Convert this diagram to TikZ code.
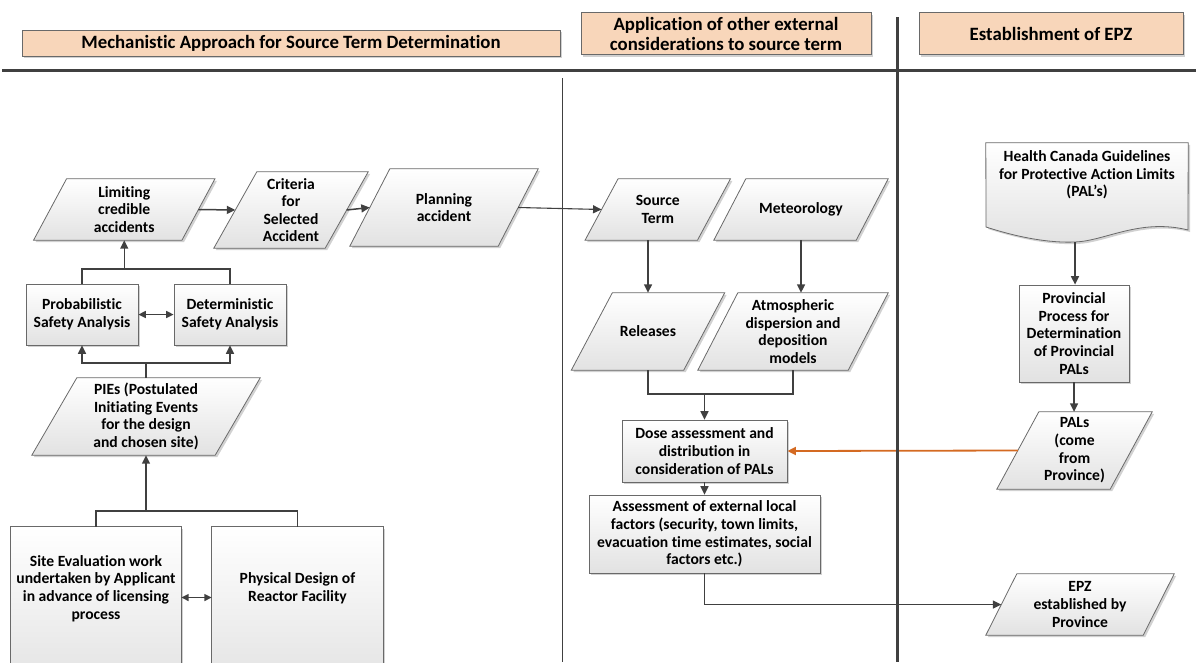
\documentclass[tikz,border=0pt]{standalone}
\usepackage{fontspec}
\setmainfont{Carlito}[Ligatures=NoCommon]
\usetikzlibrary{arrows.meta,shadows,backgrounds,calc}

\definecolor{ink}{RGB}{64,64,64}
\definecolor{edge}{RGB}{105,105,105}
\definecolor{peach}{RGB}{248,214,186}
\definecolor{orangeline}{RGB}{212,106,34}
\definecolor{boxbot}{RGB}{226,226,226}

\tikzset{
  base/.style={font=\fontsize{15.6}{17.6}\selectfont\bfseries, align=center, inner sep=0pt},
  softshadow/.style={drop shadow={shadow xshift=2pt, shadow yshift=-2pt, fill=black, opacity=0.18}},
  shade box/.style={draw=edge, line width=0.8pt, top color=white, bottom color=boxbot, softshadow},
  rbox/.style={base, shade box},
  ptext/.style={base},
  header/.style={draw=edge, line width=0.8pt, fill=peach, softshadow,
    font=\fontsize{18.8}{20}\selectfont\bfseries, align=center, inner sep=0pt},
  conn/.style={draw=ink, line width=1.5pt},
  arr/.style={conn, -{Triangle[length=8.5pt,width=8pt]}},
  dbl/.style={conn, {Triangle[length=7.5pt,width=7pt]}-{Triangle[length=7.5pt,width=7pt]}},
  divider/.style={draw=ink, line width=3pt},
  thindivider/.style={draw=ink, line width=1pt},
}

% parallelogram around an (invisible) text node; #2 = half of the horizontal slant
\newcommand\slantbox[2]{%
  \path[shade box] ([xshift=#2pt]#1.north west) -- ([xshift=#2pt]#1.north east)
    -- ([xshift=-#2pt]#1.south east) -- ([xshift=-#2pt]#1.south west) -- cycle;}

\begin{document}
\begin{tikzpicture}[x=1pt,y=-1pt]
\useasboundingbox (0,0) rectangle (1196,662);

% column headers
\node[header, minimum width=538pt, minimum height=26pt] (h1) at (291,43)
  {Mechanistic Approach for Source Term Determination};
\node[header, minimum width=290pt, minimum height=42pt] (h2) at (726,33.5)
  {Application of other external\\considerations to source term};
\node[header, minimum width=264pt, minimum height=42pt] (h3) at (1051,33.5)
  {Establishment of EPZ};

% left column
\node[ptext, minimum width=148pt, minimum height=61pt] (lim) at (124.25,209.5)
  {Limiting\\credible\\accidents};
\node[ptext, minimum width=111pt, minimum height=76pt] (crit) at (291,210)
  {Criteria\\for\\Selected\\Accident};
\node[ptext, minimum width=148pt, minimum height=77pt] (plan) at (444,207.5)
  {Planning\\accident};
\node[rbox, minimum width=112pt, minimum height=61pt] (psa) at (82,314.5)
  {Probabilistic\\Safety Analysis};
\node[rbox, minimum width=112pt, minimum height=61pt] (dsa) at (230,314.5)
  {Deterministic\\Safety Analysis};
\node[ptext, minimum width=183pt, minimum height=77pt] (pies) at (146,416.5)
  {PIEs (Postulated\\Initiating Events\\for the design\\and chosen site)};
\node[ptext, minimum width=170pt, minimum height=123pt] (site) at (96,588.5)
  {Site Evaluation work\\undertaken by Applicant\\in advance of licensing\\process};
\node[ptext, minimum width=171pt, minimum height=123pt] (phys) at (297.5,588.5)
  {Physical Design of\\Reactor Facility};

% middle column
\node[ptext, minimum width=112pt, minimum height=61pt] (src) at (657.75,209.5)
  {Source\\Term};
\node[ptext, minimum width=142pt, minimum height=61pt] (met) at (801,209.5)
  {Meteorology};
\node[ptext, minimum width=112pt, minimum height=77pt] (rel) at (648,331.5)
  {Releases};
\node[ptext, minimum width=150pt, minimum height=77pt] (atm) at (793,331.5)
  {Atmospheric\\dispersion and\\deposition\\models};
\node[rbox, minimum width=165pt, minimum height=62pt] (dose) at (704.5,451)
  {Dose assessment and\\distribution in\\consideration of PALs};
\node[rbox, minimum width=231pt, minimum height=78pt] (assess) at (704.5,534)
  {Assessment of external local\\factors (security, town limits,\\evacuation time estimates, social\\factors etc.)};

% right column
\node[ptext, minimum width=202pt, minimum height=64pt] (health) at (1087,175)
  {Health Canada Guidelines\\for Protective Action Limits\\(PAL’s)};
\node[rbox, minimum width=110pt, minimum height=97pt] (prov) at (1074,333.5)
  {Provincial\\Process for\\Determination\\of Provincial\\PALs};
\node[ptext, minimum width=113pt, minimum height=77pt] (pals) at (1074.5,450.5)
  {PALs\\(come\\from\\Province)};
\node[ptext, minimum width=157pt, minimum height=61pt] (epz) at (1080,604.5)
  {EPZ\\established by\\Province};

% outlines of the slanted, open and document shapes
\begin{scope}[on background layer]
  \slantbox{lim}{16.5}
  \slantbox{crit}{21.5}
  \slantbox{plan}{20}
  \slantbox{pies}{22.5}
  \slantbox{src}{16.5}
  \slantbox{met}{16}
  \slantbox{rel}{20.5}
  \slantbox{atm}{20}
  \slantbox{pals}{21}
  \slantbox{epz}{15.5}
  \path[shade box] (site.north west) rectangle ([yshift=-40pt]site.south east);
  \path[shade box] (phys.north west) rectangle ([yshift=-40pt]phys.south east);
  \path[shade box] (health.north west) -- (health.north east) -- (1188,230)
    .. controls (1140,218) and (1105,241) .. (1075,242)
    .. controls (1050,243) and (1020,238) .. (986,227) -- cycle;
\end{scope}

% connectors, left column
\coordinate (j1) at (124.25,269);
\coordinate (j2) at (146,363);
\coordinate (j3) at (146,511);
\draw[conn] (psa.north) |- (j1) -| (dsa.north);
\draw[arr] (j1) -- (lim.south);
\draw[dbl] (psa.east) -- (dsa.west);
\draw[conn] (pies.north) -- (j2);
\draw[arr] (j2) -| (psa.south);
\draw[arr] (j2) -| (dsa.south);
\draw[conn] (site.north) |- (j3) -| (phys.north);
\draw[arr] (j3) -- (pies.south);
\draw[dbl] ([yshift=-9pt]site.east) -- ([yshift=-9pt]phys.west);
\draw[arr] (lim.east) -- (crit.west);
\draw[arr] (crit.east) -- (plan.west);
\draw[arr, line width=1.1pt] (plan.east) -- (src.west);

% connectors, middle column
\coordinate (j4) at (704.5,394);
\draw[arr] (src.south -| rel.north) -- (rel.north);
\draw[arr] (met.south) -- (met.south |- atm.north);
\draw[conn] (rel.south) |- (j4) -| (atm.south);
\draw[arr] (j4) -- (dose.north);
\draw[arr] (dose.south) -- (assess.north);
\draw[arr] (assess.south) |- (epz.west);

% connectors, right column
\coordinate (hb) at (1075,242);
\draw[arr] (hb) -- (hb |- prov.north);
\draw[arr] (prov.south) -- (prov.south |- pals.north);
\draw[arr, draw=orangeline, line width=1.8pt] (pals.west) -- (dose.east);

% column dividers
\draw[divider] (2,70) -- (1196,70);
\draw[divider] (897,17) -- (897,662);
\draw[thindivider] (562,78) -- (562,662);
\end{tikzpicture}
\end{document}
